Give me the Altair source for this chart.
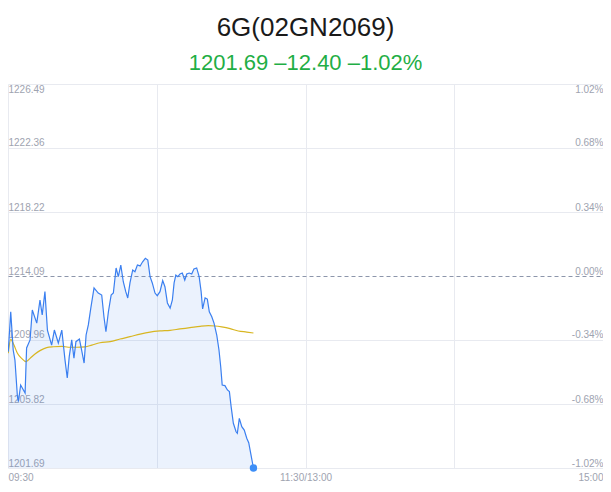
import altair as alt
import pandas as pd

TITLE = "6G(02GN2069)"
SUBTITLE = "1201.69 –12.40 –1.02%"

# minutes since 09:30 (trading minutes) and prices
MINUTES = [0.1, 1.1, 2.1, 2.8, 3.8, 4.2, 5.1, 6.9, 7.5, 8.9,
           9.8, 11.6, 12.9, 13.8, 14.9, 15.9, 17.6, 18.7, 20.3, 21.7,
           23.0, 23.9, 24.7, 25.7, 26.6, 27.4, 28.8, 29.7, 30.7, 31.5,
           32.4, 33.4, 34.7, 36.4, 37.8, 38.7, 39.5, 40.5, 41.6, 42.5,
           43.6, 44.5, 45.5, 46.5, 47.5, 48.3, 49.2, 50.3, 51.2, 52.2,
           53.3, 54.3, 55.4, 56.4, 57.3, 58.2, 59.3, 60.2, 61.3, 62.4,
           63.3, 64.3, 65.4, 66.3, 67.0, 67.7, 68.5, 69.4, 70.3, 71.3,
           72.1, 73.1, 74.1, 75.0, 76.1, 77.1, 77.9, 78.5, 79.5, 80.4,
           81.2, 82.2, 83.1, 84.2, 85.1, 85.8, 86.4, 87.5, 88.5, 89.3,
           90.0, 90.9, 92.0, 92.5, 93.3, 94.3, 95.3, 96.3, 97.1, 97.9,
           99.0]
PRICES = [1209.20, 1211.78, 1209.31, 1208.66, 1206.29, 1205.97, 1207.05, 1206.53, 1209.44, 1209.96,
          1211.89, 1211.05, 1212.54, 1211.57, 1213.08, 1210.60, 1209.63, 1210.60, 1209.76, 1210.60,
          1208.66, 1207.50, 1208.88, 1209.96, 1208.79, 1209.85, 1210.02, 1209.31, 1208.47, 1210.28,
          1210.93, 1212.02, 1213.32, 1212.99, 1212.86, 1211.46, 1210.49, 1211.78, 1212.86, 1212.99,
          1214.61, 1214.05, 1214.80, 1213.72, 1213.08, 1212.67, 1213.64, 1214.48, 1214.37, 1214.80,
          1214.74, 1215.01, 1215.23, 1215.12, 1214.05, 1213.64, 1212.99, 1212.82, 1213.08, 1213.79,
          1213.40, 1212.35, 1212.02, 1212.54, 1213.64, 1214.15, 1214.05, 1214.22, 1214.28, 1213.83,
          1214.22, 1214.28, 1214.22, 1214.54, 1214.61, 1214.05, 1213.08, 1211.96, 1212.67, 1212.60,
          1211.78, 1211.46, 1211.05, 1210.28, 1209.31, 1208.23, 1207.05, 1207.01, 1206.73, 1206.62,
          1205.65, 1204.58, 1204.03, 1203.93, 1204.90, 1204.36, 1204.14, 1203.61, 1203.32, 1202.64,
          1201.69]

AVG_MINUTES = [0.1, 1.1, 2.4, 3.8, 5.5, 7.3, 8.9, 10.9, 12.9, 15.6,
               18.3, 21.7, 24.3, 27.7, 31.1, 33.8, 37.1, 41.2, 45.2, 49.2,
               53.3, 57.3, 61.3, 65.4, 69.4, 73.4, 77.5, 80.8, 83.5, 86.2,
               89.6, 92.9, 96.3, 99.0]
AVG_PRICES = [1209.10, 1210.00, 1209.63, 1209.10, 1208.77, 1208.56, 1208.77, 1209.05, 1209.27, 1209.46,
              1209.52, 1209.55, 1209.49, 1209.49, 1209.51, 1209.63, 1209.78, 1209.85, 1210.02, 1210.17,
              1210.34, 1210.47, 1210.54, 1210.58, 1210.67, 1210.75, 1210.84, 1210.88, 1210.86, 1210.80,
              1210.69, 1210.54, 1210.47, 1210.41]

PREV_CLOSE = 1214.09
Y_TICKS = [1201.69, 1205.82, 1209.96, 1214.09, 1218.22, 1222.36, 1226.49]
Y_LABELS = ["1201.69", "1205.82", "1209.96", "1214.09", "1218.22", "1222.36", "1226.49"]
PCT_LABELS = ["-1.02%", "-0.68%", "-0.34%", "0.00%", "0.34%", "0.68%", "1.02%"]
X_TICKS = [0, 60, 120, 180, 240]
X_LABELS = ["09:30", "", "11:30/13:00", "", "15:00"]


def label_expr(values, labels):
    parts = [f"abs(datum.value - {v}) < 0.001 ? '{l}'" for v, l in zip(values, labels)]
    return " : ".join(parts) + " : ''"


df = pd.DataFrame({"minute": MINUTES, "price": PRICES})
df["base"] = Y_TICKS[0]
avg = pd.DataFrame({"minute": AVG_MINUTES, "price": AVG_PRICES})
last = df.tail(1)

LABEL_COLOR = "#9ea3b0"
GRID_COLOR = "#e8eaf0"
FONT = "Liberation Sans"
is_prev = f"abs(datum.value - {PREV_CLOSE}) < 0.001"
is_top = f"datum.value > {Y_TICKS[-1] - 0.01}"

x_enc = alt.X(
    "minute:Q",
    scale=alt.Scale(domain=[X_TICKS[0], X_TICKS[-1]], nice=False, zero=False),
    axis=alt.Axis(
        values=X_TICKS, labelExpr=label_expr(X_TICKS, X_LABELS), title=None,
        grid=True, gridColor=GRID_COLOR, domain=False, ticks=False, tickSize=0,
        labelFlush=True, labelPadding=4, labelColor=LABEL_COLOR, labelFontSize=10,
        labelFont=FONT,
    ),
)
y_scale = alt.Scale(domain=[Y_TICKS[0], Y_TICKS[-1]], nice=False, zero=False)
y_enc = alt.Y(
    "price:Q",
    scale=y_scale,
    axis=alt.Axis(
        values=Y_TICKS, labelExpr=label_expr(Y_TICKS, Y_LABELS), title=None,
        grid=True,
        gridColor={"condition": {"test": is_prev, "value": "#8d96ab"}, "value": GRID_COLOR},
        gridDash={"condition": {"test": is_prev, "value": [4, 3]}, "value": []},
        domain=False, ticks=False, tickSize=0, labelPadding=0, labelAlign="left",
        labelBaseline={"condition": {"test": is_top, "value": "top"}, "value": "bottom"},
        labelColor=LABEL_COLOR, labelFontSize=10, labelFont=FONT,
    ),
)
y_right = alt.Y(
    "price:Q",
    scale=y_scale,
    axis=alt.Axis(
        orient="right", values=Y_TICKS, labelExpr=label_expr(Y_TICKS, PCT_LABELS), title=None,
        grid=False, domain=False, ticks=False, tickSize=0, labelPadding=0, labelAlign="right",
        labelBaseline={"condition": {"test": is_top, "value": "top"}, "value": "bottom"},
        labelColor=LABEL_COLOR, labelFontSize=10, labelFont=FONT,
    ),
)

area = alt.Chart(df).mark_area(color="#3a7ff0", opacity=0.1).encode(
    x=x_enc, y=y_enc, y2="base:Q"
)
line = alt.Chart(df).mark_line(color="#3a7ff0", strokeWidth=1.2).encode(x=x_enc, y=y_enc)
avg_line = alt.Chart(avg).mark_line(color="#d8b622", strokeWidth=1.2, interpolate="monotone").encode(
    x=x_enc, y=y_enc
)
dot = alt.Chart(last).mark_circle(color="#3d8ef7", size=55, opacity=1).encode(x=x_enc, y=y_enc)

main = alt.layer(area, avg_line, line, dot)
right = alt.Chart(df).mark_line(opacity=0).encode(x=x_enc, y=y_right)

chart = (
    alt.layer(main, right)
    .resolve_scale(y="independent")
    .properties(
        width=595,
        height=384,
        padding={"left": 0, "top": 76, "right": 0, "bottom": 24},
        autosize=alt.AutoSizeParams(type="none"),
        title=alt.TitleParams(
            text=TITLE,
            subtitle=SUBTITLE,
            anchor="middle",
            font=FONT,
            fontSize=26,
            fontWeight="normal",
            color="#1a1a1a",
            subtitleFont=FONT,
            subtitleFontSize=22,
            subtitleColor="#1fae45",
            subtitlePadding=12,
            offset=10,
        ),
    )
    .configure_view(stroke=None)
)

chart.save("out.html", embed_options={"renderer": "svg", "actions": False})
